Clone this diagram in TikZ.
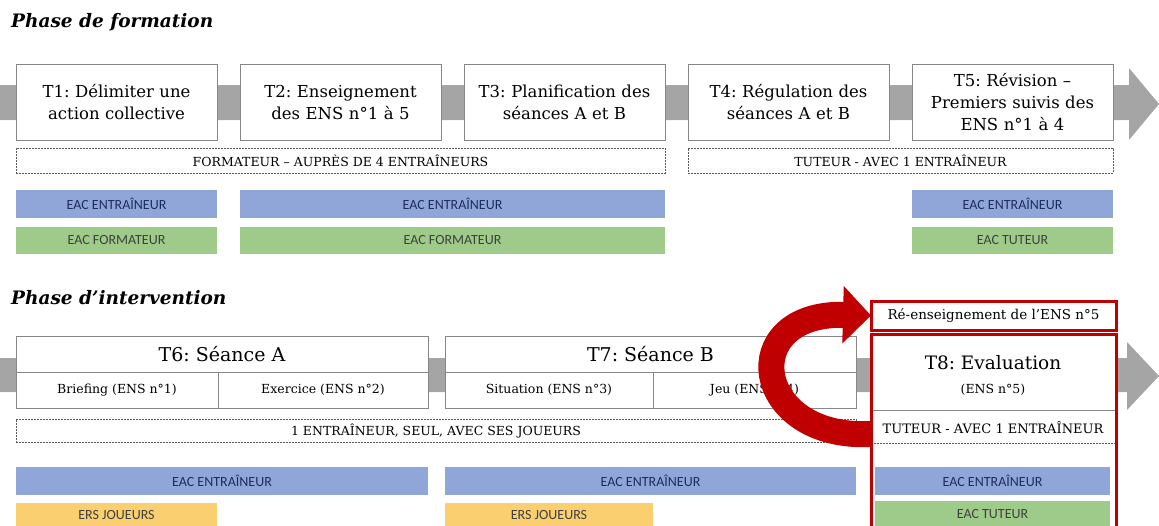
\documentclass[tikz,border=0pt]{standalone}
\usepackage{fontspec}
\setmainfont{DejaVu Serif}
\newfontfamily\barfont{Carlito}
\usetikzlibrary{positioning,arrows.meta}
\frenchspacing

\definecolor{bandgray}{RGB}{165,165,165}
\definecolor{boxgray}{RGB}{135,135,135}
\definecolor{dashgray}{RGB}{90,90,90}
\definecolor{eacblue}{RGB}{145,166,216}
\definecolor{eacgreen}{RGB}{158,202,138}
\definecolor{ersorange}{RGB}{250,207,112}
\definecolor{eactext}{RGB}{30,45,95}
\definecolor{redarrow}{RGB}{192,0,0}

\begin{document}
\begin{tikzpicture}[x=1pt, y=-1pt, node distance=23pt,
        task/.style={rectangle, draw=boxgray, line width=1pt, fill=white, text width=199pt, align=center, minimum width=201pt, minimum height=76pt, inner sep=0pt, outer sep=0pt, font=\fontsize{16.5}{22}\selectfont},
        cell/.style={rectangle, draw=boxgray, line width=1pt, fill=white, minimum height=36pt, inner sep=0pt, outer sep=0pt, anchor=north west, font=\fontsize{12.5}{14}\selectfont},
        role/.style={rectangle, draw=dashgray, dash pattern=on 2pt off 1pt, line width=0.9pt, fill=white, minimum height=25pt, inner sep=0pt, outer sep=0pt, anchor=north west, font=\fontsize{12.5}{14}\selectfont},
        eac/.style={rectangle, fill=eacblue, minimum height=28pt, inner sep=0pt, outer sep=0pt, anchor=north west, text=eactext, font=\barfont\fontsize{14}{15}\selectfont},
        eacg/.style={eac, fill=eacgreen, text=black!75},
        ers/.style={eac, fill=ersorange, text=black!75},
        phase/.style={anchor=west, inner sep=0pt, font=\fontsize{18.5}{20}\bfseries\itshape\selectfont},
        redbox/.style={rectangle, draw=redarrow, line width=3pt, fill=white, inner sep=0pt, outer sep=0pt, anchor=north west}]

    \useasboundingbox (0,0) rectangle (1159,525);

    % phase de formation
    \node[phase] (phaseA) at (11,22) {Phase de formation};
    \fill[bandgray] (0,85) -- (1129,85) -- (1129,68) -- (1159,104) -- (1129,140) -- (1129,120) -- (0,120) -- cycle;

    \node[task, anchor=north west] (t1) at (16,64) {T1: Délimiter une\\action collective};
    \node[task, right=of t1] (t2) {T2: Enseignement\\des ENS n°1 à 5};
    \node[task, right=of t2] (t3) {T3: Planification des\\séances A et B};
    \node[task, right=of t3] (t4) {T4: Régulation des\\séances A et B};
    \node[task, right=of t4] (t5) {T5: Révision –\\Premiers suivis des\\ENS n°1 à 4};

    \node[role, minimum width=649pt] (formateur) at (16,148) {FORMATEUR – AUPRÈS DE 4 ENTRAÎNEURS};
    \node[role, minimum width=425pt] (tuteurA) at (688,148) {TUTEUR - AVEC 1 ENTRAÎNEUR};

    \node[eac, minimum width=201pt] (eacA1) at (16,190) {EAC ENTRAÎNEUR};
    \node[eac, minimum width=425pt] (eacA2) at (240,190) {EAC ENTRAÎNEUR};
    \node[eac, minimum width=201pt] (eacA5) at (912,190) {EAC ENTRAÎNEUR};
    \node[eacg, minimum width=201pt, minimum height=27pt] (formA1) at (16,227) {EAC FORMATEUR};
    \node[eacg, minimum width=425pt, minimum height=27pt] (formA2) at (240,227) {EAC FORMATEUR};
    \node[eacg, minimum width=201pt, minimum height=27pt] (tutA5) at (912,227) {EAC TUTEUR};

    % phase d'intervention
    \node[phase] (phaseB) at (11,298) {Phase d’intervention};
    \fill[bandgray] (0,358) -- (1127,358) -- (1127,342) -- (1159,376) -- (1127,410) -- (1127,392) -- (0,392) -- cycle;

    \node[cell, minimum width=412pt, font=\fontsize{19}{22}\selectfont] (t6) at (16,336) {T6: Séance A};
    \node[cell, minimum width=202pt] (brief) at (16,372) {Briefing (ENS n°1)};
    \node[cell, minimum width=210pt] (exer) at (218,372) {Exercice (ENS n°2)};
    \node[cell, minimum width=411pt, font=\fontsize{19}{22}\selectfont] (t7) at (445,336) {T7: Séance B};
    \node[cell, minimum width=208pt] (situ) at (445,372) {Situation (ENS n°3)};
    \node[cell, minimum width=203pt] (jeu) at (653,372) {Jeu (ENS n°4)};

    \node[role, minimum width=840pt, minimum height=23pt] (seul) at (16,419) {1 ENTRAÎNEUR, SEUL, AVEC SES JOUEURS};

    \node[eac, minimum width=412pt] (eacB6) at (16,467) {EAC ENTRAÎNEUR};
    \node[eac, minimum width=411pt] (eacB7) at (445,467) {EAC ENTRAÎNEUR};
    \node[ers, minimum width=201pt, minimum height=24pt] (ersB6) at (16,503) {ERS JOUEURS};
    \node[ers, minimum width=208pt, minimum height=24pt] (ersB7) at (445,503) {ERS JOUEURS};

    % retour vers le re-enseignement
    \coordinate (t8tail) at (871,434);
    \node[redbox, minimum width=245pt, minimum height=29pt, font=\fontsize{13.5}{15}\selectfont] (rese) at (871,301) {Ré-enseignement de l’ENS n°5};
    \draw[redarrow, line width=26pt, -{Triangle[length=28pt,width=56pt]}] (t8tail) .. controls (752,440) and (735,312) .. (rese.west);

    \node[redbox, minimum width=245pt, minimum height=196pt] (t8) at (871,334) {};
    \node[font=\fontsize{18.5}{22}\selectfont] (t8title) at (993,363) {T8: Evaluation};
    \node[font=\fontsize{12.5}{14}\selectfont] (t8ens) at (993,390) {(ENS n°5)};
    \draw[boxgray, line width=1pt] (t8.west |- 0,410) -- (t8.east |- 0,410);
    \node[font=\fontsize{13}{15}\selectfont] (tuteurB) at (993,428) {TUTEUR - AVEC 1 ENTRAÎNEUR};
    \draw[dashgray, line width=0.9pt, dash pattern=on 2pt off 1pt] (t8.west |- 0,443) -- (t8.east |- 0,443);
    \node[eac, minimum width=235pt] (eacB8) at (875,467) {EAC ENTRAÎNEUR};
    \node[eacg, minimum width=235pt, minimum height=26pt] (tutB8) at (875,501) {EAC TUTEUR};
    \draw[redarrow, line width=3pt] (t8.south west) -- (t8.north west) -- (t8.north east) -- (t8.south east);
\end{tikzpicture}
\end{document}
